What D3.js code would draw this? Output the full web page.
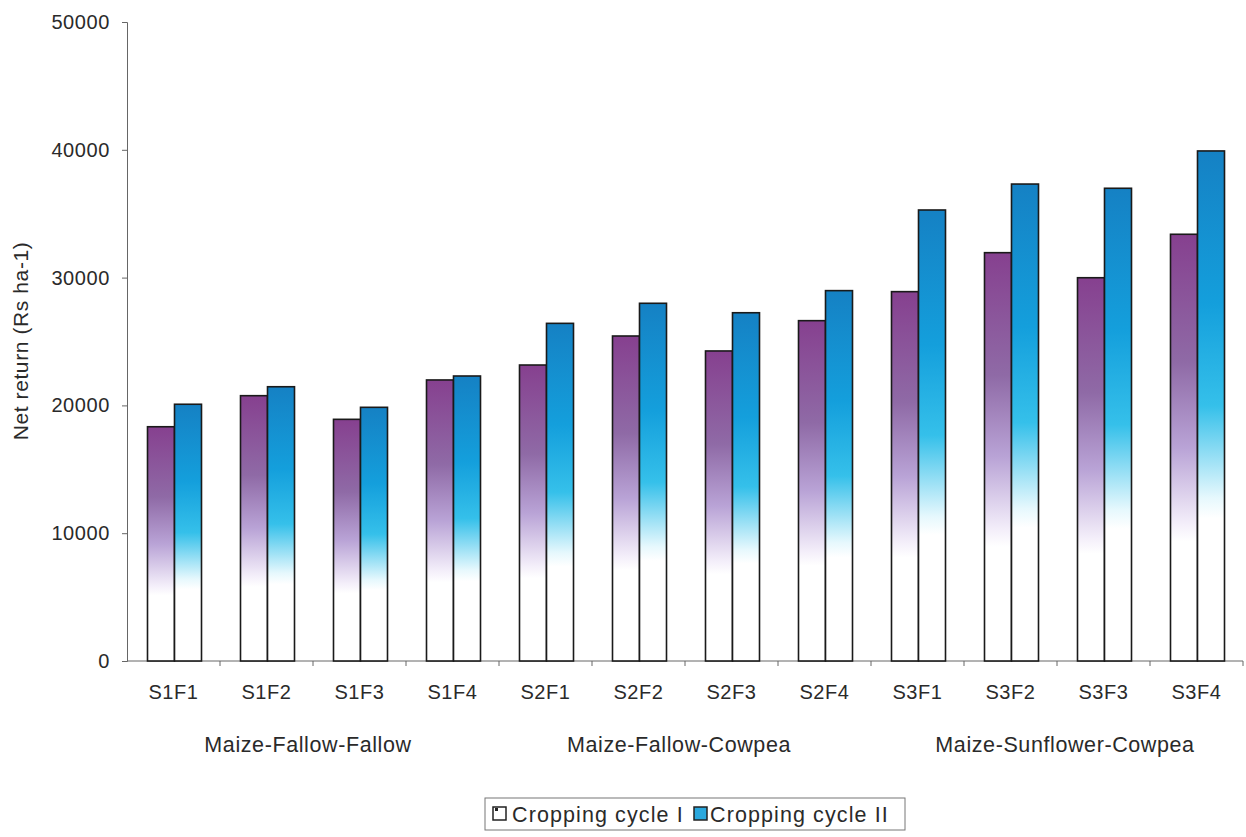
<!DOCTYPE html>
<html><head><meta charset="utf-8">
<script src="https://cdn.jsdelivr.net/npm/d3@7/dist/d3.min.js"></script>
<style>body{margin:0;background:#fff}svg{font-family:"Liberation Sans",Arial,sans-serif}</style>
</head><body><svg id="c" width="1246" height="837"></svg>
<script>
const categories = ["S1F1","S1F2","S1F3","S1F4","S2F1","S2F2","S2F3","S2F4","S3F1","S3F2","S3F3","S3F4"];
const groups = ["Maize-Fallow-Fallow","Maize-Fallow-Cowpea","Maize-Sunflower-Cowpea"];
const seriesNames = ["Cropping cycle I","Cropping cycle II"];
const cycleI  = [18330,20760,18910,21990,23160,25430,24260,26630,28900,31950,29990,33390];
const cycleII = [20090,21460,19850,22300,26420,27990,27250,28980,35290,37320,36990,39910];
const yTicks = [0,10000,20000,30000,40000,50000];

const FS = 20, LS = "0.6px", FL = 21.5;
const svg = d3.select("#c");
const defs = svg.append("defs");
function grad(id, stops){
  const g = defs.append("linearGradient").attr("id",id).attr("x1",0).attr("y1",0).attr("x2",0).attr("y2",1);
  stops.forEach(s=>g.append("stop").attr("offset",s[0]).attr("stop-color",s[1]));
}
grad("g1",[[0,"#86408f"],[0.3,"#8f6aa6"],[0.5,"#b9a3d6"],[0.68,"#f4effa"],[0.72,"#ffffff"],[1,"#ffffff"]]);
grad("g2",[[0,"#1581c4"],[0.3,"#149fdc"],[0.5,"#35c0ea"],[0.68,"#e6f8fd"],[0.72,"#ffffff"],[1,"#ffffff"]]);

const x = d3.scaleBand().domain(categories).range([127,1243]).padding(0);
const y = d3.scaleLinear().domain([0,50000]).range([661,22]);
const bw = 27;

// axes
const yAxis = d3.axisLeft(y).tickValues(yTicks).tickSize(5).tickPadding(12).tickFormat(d3.format("d"));
const ga = svg.append("g").attr("transform","translate(127,0)").call(yAxis);
ga.select(".domain").attr("stroke","#666");
ga.selectAll(".tick line").attr("stroke","#666");
ga.selectAll("text").attr("font-size",FS).attr("letter-spacing",LS).attr("fill","#2a2a2a").attr("font-family","Liberation Sans, Arial, sans-serif");

const xb = svg.append("g");
xb.append("line").attr("x1",127).attr("x2",1243).attr("y1",y(0)).attr("y2",y(0)).attr("stroke","#666");
xb.selectAll("line.t").data(categories.slice(1).concat(["end"])).enter().append("line")
  .attr("x1",(d,i)=>127+(i+1)*x.bandwidth()).attr("x2",(d,i)=>127+(i+1)*x.bandwidth())
  .attr("y1",y(0)).attr("y2",y(0)+5).attr("stroke","#666");
xb.selectAll("text.c").data(categories).enter().append("text")
  .attr("x",d=>x(d)+x.bandwidth()/2).attr("y",699).attr("text-anchor","middle")
  .attr("font-size",FS).attr("letter-spacing",LS).attr("fill","#2a2a2a").text(d=>d);
const gShift = [-5,-6,8];
xb.selectAll("text.g").data(groups).enter().append("text")
  .attr("x",(d,i)=>(x(categories[i*4])+x(categories[i*4+3])+x.bandwidth())/2 + gShift[i]).attr("y",752).attr("text-anchor","middle")
  .attr("font-size",FL).attr("letter-spacing",LS).attr("fill","#2a2a2a").text(d=>d);

svg.append("text").attr("transform","translate(28,341) rotate(-90)").attr("text-anchor","middle")
  .attr("font-size",21).attr("letter-spacing",LS).attr("fill","#2a2a2a").text("Net return (Rs ha-1)");

// bars
const data = categories.map((c,i)=>({c, a:cycleI[i], b:cycleII[i]}));
const bars = svg.append("g");
data.forEach(d=>{
  const cx = x(d.c)+x.bandwidth()/2 + 1;
  bars.append("rect").attr("x",cx-bw).attr("y",y(d.a)).attr("width",bw).attr("height",y(0)-y(d.a))
    .attr("fill","url(#g1)").attr("stroke","#1a1a1a").attr("stroke-width",1.6);
  bars.append("rect").attr("x",cx).attr("y",y(d.b)).attr("width",bw).attr("height",y(0)-y(d.b))
    .attr("fill","url(#g2)").attr("stroke","#1a1a1a").attr("stroke-width",1.6);
});

// legend
const lg = svg.append("g");
lg.append("rect").attr("x",485).attr("y",798).attr("width",420).attr("height",32).attr("fill","#fff").attr("stroke","#777");
lg.append("rect").attr("x",493).attr("y",807).attr("width",13).attr("height",13).attr("fill","#fff").attr("stroke","#222").attr("stroke-width",1.5);
lg.append("rect").attr("x",495).attr("y",808).attr("width",3).attr("height",3).attr("fill","#222");
lg.append("text").attr("x",512).attr("y",822).attr("font-size",FL).attr("letter-spacing","1.1px").attr("fill","#2a2a2a").text(seriesNames[0]);
lg.append("rect").attr("x",694).attr("y",807).attr("width",13).attr("height",13).attr("fill","#2aa8de").attr("stroke","#222").attr("stroke-width",1.5);
lg.append("text").attr("x",710).attr("y",822).attr("font-size",FL).attr("letter-spacing","1.1px").attr("fill","#2a2a2a").text(seriesNames[1]);
</script></body></html>
